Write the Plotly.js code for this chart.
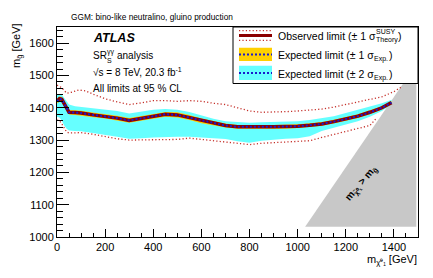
<!DOCTYPE html>
<html>
<head>
<meta charset="utf-8">
<script src="https://cdn.plot.ly/plotly-3.0.1.min.js"></script>
<style>html,body{margin:0;padding:0;background:#fff}#chart{width:433px;height:278px}</style>
</head>
<body>
<div id="chart"></div>
<script>
// neutralino mass grid (GeV)
const mChi = [0, 10, 20, 30, 40, 50, 75, 100, 150, 200, 250, 300, 350, 400, 450, 500, 550, 600, 650, 700, 750, 800, 850, 900, 950, 1000, 1050, 1100, 1150, 1200, 1250, 1300, 1350, 1390];
// expected limit on gluino mass (GeV)
const expected = [1420, 1428, 1426, 1414, 1398, 1386, 1385, 1384, 1378, 1374, 1368, 1361, 1368, 1375, 1380, 1378, 1370, 1360, 1352, 1345, 1341, 1340, 1341, 1341, 1341, 1343, 1346, 1350, 1357, 1365, 1374, 1386, 1400, 1416];
const exp1Up = [1427, 1435, 1433, 1421, 1405, 1393, 1392, 1391, 1385, 1381, 1375, 1368, 1375, 1382, 1387, 1386, 1378, 1367, 1359, 1351, 1347, 1346, 1347, 1347, 1347, 1349, 1352, 1356, 1363, 1371, 1380, 1392, 1405, 1420];
const exp1Dn = [1413, 1421, 1419, 1407, 1391, 1379, 1378, 1377, 1371, 1367, 1361, 1354, 1360, 1367, 1372, 1370, 1362, 1352, 1345, 1339, 1335, 1334, 1335, 1335, 1335, 1337, 1340, 1344, 1351, 1359, 1368, 1380, 1395, 1412];
const exp2Up = [1441, 1443, 1440, 1430, 1418, 1410, 1405, 1403, 1398, 1396, 1390, 1382, 1388, 1394, 1396, 1394, 1387, 1376, 1366, 1358, 1355, 1354, 1355, 1356, 1357, 1358, 1362, 1367, 1374, 1384, 1394, 1404, 1414, 1425];
const exp2Dn = [1372, 1370, 1360, 1345, 1335, 1330, 1328, 1327, 1322, 1316, 1310, 1304, 1306, 1308, 1310, 1310, 1310, 1308, 1306, 1303, 1296, 1292, 1298, 1302, 1304, 1306, 1312, 1328, 1338, 1348, 1358, 1372, 1390, 1410];
// observed limit (coincides with expected)
const observed = [1420, 1428, 1426, 1414, 1398, 1386, 1385, 1384, 1378, 1374, 1368, 1361, 1368, 1375, 1380, 1378, 1370, 1360, 1352, 1345, 1341, 1340, 1341, 1341, 1341, 1343, 1346, 1350, 1357, 1365, 1374, 1386, 1400, 1416];
// observed +1 sigma theory
const obsUpX = [0, 20, 40, 60, 90, 120, 150, 200, 250, 300, 350, 400, 450, 500, 550, 600, 650, 700, 750, 800, 850, 900, 950, 1000, 1050, 1100, 1150, 1200, 1250, 1300, 1350, 1400, 1435];
const obsUpY = [1470, 1462, 1445, 1448, 1455, 1452, 1442, 1428, 1418, 1410, 1415, 1422, 1422, 1420, 1422, 1420, 1414, 1410, 1400, 1390, 1386, 1386, 1388, 1390, 1392, 1396, 1402, 1410, 1418, 1425, 1434, 1450, 1466];
// observed -1 sigma theory
const obsDnX = [0, 10, 20, 30, 40, 50, 100, 150, 200, 250, 300, 350, 400, 450, 500, 550, 600, 650, 700, 750, 800, 850, 900, 950, 1000, 1050, 1100, 1150, 1200, 1250, 1300, 1330];
const obsDnY = [1362, 1360, 1350, 1335, 1325, 1322, 1323, 1318, 1310, 1304, 1300, 1300, 1300, 1300, 1302, 1306, 1302, 1298, 1296, 1290, 1286, 1290, 1292, 1294, 1296, 1298, 1308, 1318, 1328, 1336, 1345, 1370];
// forbidden region m(chi) > m(gluino)
const forbidX = [1031, 1493, 1493];
const forbidY = [1032, 1535, 1032];

const xTicks = [0, 200, 400, 600, 800, 1000, 1200, 1400];
const yTicks = [1000, 1100, 1200, 1300, 1400, 1500, 1600];

function band(x, up, dn) {
  return { x: x.concat(x.slice().reverse()), y: up.concat(dn.slice().reverse()) };
}
const b2 = band(mChi, exp2Up, exp2Dn);
const b1 = band(mChi, exp1Up, exp1Dn);

const CYAN = '#66ffff', YEL = '#ffd000', DRED = '#8b0000', RED = '#c4302a', BLUE = '#1a1acc';
const FONT = 'Liberation Sans, Arial, sans-serif';
const FINE_DOT = '1.2px,2.2px';
const BLUE_DOT = '2px,2px';

const traces = [
  { x: forbidX.concat([forbidX[0]]), y: forbidY.concat([forbidY[0]]), type: 'scatter', mode: 'lines', fill: 'toself', fillcolor: '#c8c8c8', line: { width: 0 }, hoverinfo: 'skip' },
  { x: b2.x, y: b2.y, type: 'scatter', mode: 'lines', fill: 'toself', fillcolor: CYAN, line: { width: 0 } },
  { x: b1.x, y: b1.y, type: 'scatter', mode: 'lines', fill: 'toself', fillcolor: YEL, line: { width: 0 } },
  { x: obsUpX, y: obsUpY, type: 'scatter', mode: 'lines', line: { color: RED, width: 1.3, dash: FINE_DOT } },
  { x: obsDnX, y: obsDnY, type: 'scatter', mode: 'lines', line: { color: RED, width: 1.3, dash: FINE_DOT } },
  { x: mChi, y: observed, type: 'scatter', mode: 'lines', line: { color: DRED, width: 3.5 } },
  { x: mChi, y: expected, type: 'scatter', mode: 'lines', line: { color: BLUE, width: 2, dash: BLUE_DOT } }
];

// pixel -> paper helpers for layout decorations
const L = 57, T = 27, W = 361, H = 210;
const px = v => (v - L) / W;
const py = v => (T + H - v) / H;

// text width measurement for stacked super/subscripts
const ctx = document.createElement('canvas').getContext('2d');
function tw(text, size) { ctx.font = size + 'px "Liberation Sans", Arial, sans-serif'; return ctx.measureText(text).width; }

const LX0 = 277, LFS = 10.5;
const obsMain = 'Observed limit (± 1 σ';
const exp1Main = 'Expected limit (± 1 σ';
const exp2Main = 'Expected limit (± 2 σ';
const wObs = tw(obsMain, LFS), wExp1 = tw(exp1Main, LFS), wExp2 = tw(exp2Main, LFS);
const wTheory = tw('Theory', 7), wExpSub = tw('Exp.', 7);
const wSR = tw('SR', 10), wGG = tw('γγ', 7);

const shapes = [
  { type: 'rect', xref: 'paper', yref: 'paper', x0: px(233), x1: px(418), y0: py(83.5), y1: py(27), fillcolor: '#fff', line: { color: '#000', width: 1 }, layer: 'above' },
  { type: 'line', xref: 'paper', yref: 'paper', x0: px(239), x1: px(272), y0: py(30.7), y1: py(30.7), line: { color: RED, width: 1.3, dash: FINE_DOT }, layer: 'above' },
  { type: 'line', xref: 'paper', yref: 'paper', x0: px(239), x1: px(272), y0: py(40.3), y1: py(40.3), line: { color: RED, width: 1.3, dash: FINE_DOT }, layer: 'above' },
  { type: 'line', xref: 'paper', yref: 'paper', x0: px(239), x1: px(272), y0: py(35.5), y1: py(35.5), line: { color: DRED, width: 3 }, layer: 'above' },
  { type: 'rect', xref: 'paper', yref: 'paper', x0: px(239), x1: px(272), y0: py(61), y1: py(47.7), fillcolor: YEL, line: { width: 0 }, layer: 'above' },
  { type: 'line', xref: 'paper', yref: 'paper', x0: px(239), x1: px(272), y0: py(54.5), y1: py(54.5), line: { color: BLUE, width: 2, dash: BLUE_DOT }, layer: 'above' },
  { type: 'rect', xref: 'paper', yref: 'paper', x0: px(239), x1: px(272), y0: py(80), y1: py(65.7), fillcolor: CYAN, line: { width: 0 }, layer: 'above' },
  { type: 'line', xref: 'paper', yref: 'paper', x0: px(239), x1: px(272), y0: py(73), y1: py(73), line: { color: BLUE, width: 2, dash: BLUE_DOT }, layer: 'above' }
];

function ann(text, xp, yp, size, opts) {
  return Object.assign({ text: text, xref: 'paper', yref: 'paper', x: px(xp), y: py(yp), xanchor: 'left', yanchor: 'middle', showarrow: false, borderpad: 0, font: { family: FONT, size: size, color: '#000' } }, opts || {});
}

const annotations = [
  ann('GGM: bino-like neutralino, gluino production', 70, 17.5, 8.3),
  ann('<b><i>ATLAS</i></b>', 92, 38, 12.5),
  ann('SR', 92, 56, 10),
  ann('γγ', 92 + wSR + 0.5, 51.5, 7),
  ann('S', 92 + wSR + 0.5, 60, 7),
  ann('analysis', 92 + wSR + wGG + 3, 56, 10),
  ann('√s = 8 TeV, 20.3 fb<sup>-1</sup>', 92, 72, 10),
  ann('All limits at 95 % CL', 92, 88, 10),
  ann(obsMain, LX0, 36, LFS),
  ann('SUSY', LX0 + wObs + 0.5, 31, 7),
  ann('Theory', LX0 + wObs + 0.5, 40, 7),
  ann(')', LX0 + wObs + wTheory + 1, 36, LFS),
  ann(exp1Main, LX0, 55, LFS),
  ann('Exp.', LX0 + wExp1 + 0.5, 58.5, 7),
  ann(')', LX0 + wExp1 + wExpSub + 1, 55, LFS),
  ann(exp2Main, LX0, 74, LFS),
  ann('Exp.', LX0 + wExp2 + 0.5, 77.5, 7),
  ann(')', LX0 + wExp2 + wExpSub + 1, 74, LFS),
  ann('m<sub>g̃</sub> [GeV]', 17, 46, 11, { xanchor: 'center', textangle: -90 }),
  ann('m<sub>χ̃⁰₁</sub> [GeV]', 418, 260, 11, { xanchor: 'right' }),
  { text: '<b>m<sub>χ̃⁰₁</sub> > m<sub>g̃</sub></b>', xref: 'x', yref: 'y', x: 1264, y: 1166, showarrow: false, textangle: -50, font: { family: FONT, size: 10, color: '#000' } }
];

const layout = {
  width: 433, height: 278,
  margin: { l: L, r: 433 - L - W, t: T, b: 278 - T - H, pad: 0 },
  paper_bgcolor: '#fff', plot_bgcolor: '#fff',
  showlegend: false,
  font: { family: FONT, size: 11, color: '#000' },
  xaxis: {
    range: [0, 1500], tickvals: xTicks, ticktext: xTicks.map(String),
    ticks: 'inside', ticklen: 8, tickwidth: 1, tickcolor: '#000',
    minor: { dtick: 50, tick0: 0, ticks: 'inside', ticklen: 4, tickcolor: '#000', showgrid: false },
    showline: true, linecolor: '#000', linewidth: 1, mirror: true,
    showgrid: false, zeroline: false, tickfont: { family: FONT, size: 11 }
  },
  yaxis: {
    range: [1000, 1650], tickvals: yTicks, ticktext: yTicks.map(String),
    ticks: 'inside', ticklen: 12, tickwidth: 1, tickcolor: '#000',
    minor: { dtick: 20, tick0: 1000, ticks: 'inside', ticklen: 6, tickcolor: '#000', showgrid: false },
    showline: true, linecolor: '#000', linewidth: 1, mirror: true,
    showgrid: false, zeroline: false, tickfont: { family: FONT, size: 11 }
  },
  shapes: shapes,
  annotations: annotations
};

Plotly.newPlot('chart', traces, layout, { staticPlot: true, displayModeBar: false });
</script>
</body>
</html>
